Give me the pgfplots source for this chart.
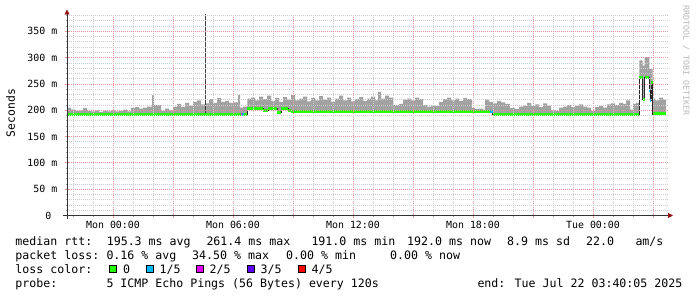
\documentclass[border=0pt]{standalone}
\usepackage{fontspec}
\setmainfont{DejaVu Sans Mono}
\setmonofont{DejaVu Sans Mono}
\usepackage{pgfplots}
\pgfplotsset{compat=1.18}
\usepackage{pgfplotstable}
\usetikzlibrary{arrows.meta}

\definecolor{smoke}{RGB}{162,162,162}
\definecolor{lcA}{RGB}{38,255,0}
\definecolor{lcB}{RGB}{0,184,255}
\definecolor{lcC}{RGB}{221,0,255}
\definecolor{lcD}{RGB}{94,0,255}
\definecolor{lcE}{RGB}{255,0,0}
\definecolor{mgrid}{RGB}{232,150,150}
\definecolor{mingrid}{RGB}{205,205,205}
\definecolor{arrowc}{RGB}{150,20,20}
\definecolor{wmark}{RGB}{185,185,185}

\newcommand\lf{\fontsize{11.6bp}{14bp}\selectfont}
\newcommand\tf{\fontsize{9.9bp}{12bp}\selectfont}

\pgfplotstableread{
h v
-2.3 205
-2.1 201
-1.9 199
-1.7 200
-1.5 204
-1.3 199
-1.1 198
-0.9 200
-0.7 197
-0.5 199
-0.3 198
-0.1 200
0.1 198
0.3 199
0.5 201
0.7 198
0.9 204
1.1 206
1.3 203
1.5 205
1.7 207
1.95 229
2.05 210
2.2 210
2.4 199
2.6 203
2.8 200
3.0 207
3.2 212
3.4 206
3.6 214
3.8 209
4.0 216
4.2 219
4.4 211
4.6 213
4.8 221
5.0 214
5.2 223
5.4 216
5.6 218
5.8 214
6.0 215
6.25 229
6.35 205
6.5 207
6.72 222
6.9 224
7.1 219
7.3 226
7.5 221
7.7 228
7.9 218
8.1 223
8.3 216
8.5 225
8.7 220
8.9 229
9.1 219
9.3 222
9.5 226
9.7 217
9.9 223
10.1 219
10.3 227
10.5 220
10.7 224
10.9 216
11.1 222
11.3 228
11.5 219
11.7 224
11.9 217
12.1 221
12.3 225
12.5 218
12.7 222
12.9 226
13.1 219
13.25 235
13.4 222
13.6 228
13.8 224
14.0 210
14.3 212
14.5 220
14.7 222
14.9 219
15.1 224
15.3 221
15.5 210
15.7 207
15.9 209
16.1 208
16.3 216
16.5 221
16.7 224
16.9 219
17.1 222
17.3 218
17.5 223
17.7 221
17.95 204
18.1 202
18.3 203
18.5 201
18.6 220
18.8 216
19.0 213
19.2 218
19.4 215
19.6 212
19.85 204
20.1 202
20.3 207
20.5 209
20.7 214
20.9 208
21.1 211
21.3 206
21.5 213
21.7 209
21.9 200
22.1 199
22.3 205
22.5 207
22.7 210
22.9 206
23.1 209
23.3 211
23.5 207
23.7 205
23.9 199
24.1 206
24.3 208
24.5 205
24.7 211
24.9 213
25.1 210
25.3 214
25.5 212
25.65 219
25.85 201
26.0 212
26.15 214
26.32 295
26.48 285
26.58 301
26.82 278
26.98 222
27.1 219
27.3 224
27.5 220
27.65 220
}\smoketop

\pgfplotstableread{
h v
-2.3 192.5
6.72 204
7.5 200
7.75 204
8.2 196
8.4 204
8.75 199.5
8.9 198.5
18.98 192.5
26.32 262
26.48 220
26.58 262
26.82 238
26.86 218
26.9 252
26.98 193
27.65 193
}\lowtab

\begin{document}
\begin{tikzpicture}
\path[use as bounding box, fill=white] (0,0) rectangle (697bp,-297bp);
\begin{axis}[
  at={(67bp,-215.5bp)}, anchor=south west,
  scale only axis, width=601bp, height=201bp,
  xmin=-2.3, xmax=27.75, ymin=0, ymax=382,
  axis x line=bottom, axis y line=left,
  axis on top,
  axis line style={black!80, line width=0.9bp},
  x axis line style={-{Triangle[length=5bp,width=5bp,color=arrowc]}, shorten <=-4bp, shorten >=-5bp},
  y axis line style={-{Triangle[length=5bp,width=5bp,color=arrowc]}, shorten <=-3.5bp, shorten >=-5bp},
  xtick={0,3,...,27},
  xticklabels={Mon 00:00,,Mon 06:00,,Mon 12:00,,Mon 18:00,,Tue 00:00,},
  minor xtick={-2,-1,1,2,4,5,7,8,10,11,13,14,16,17,19,20,22,23,25,26},
  ytick={0,50,...,350},
  yticklabels={0~~,50 m,100 m,150 m,200 m,250 m,300 m,350 m},
  minor ytick={10,20,30,40,60,70,80,90,110,120,130,140,160,170,180,190,210,220,230,240,260,270,280,290,310,320,330,340,360,370,380},
  grid=both,
  major grid style={mgrid, line width=0.8bp, dash pattern=on 1bp off 1bp},
  minor grid style={mingrid, line width=0.75bp, dash pattern=on 1bp off 1bp},
  tick align=center,
  major tick length=4bp, minor tick length=2bp,
  major tick style={mgrid, line width=0.9bp},
  minor tick style={black!40, line width=0.8bp},
  xticklabel style={font=\tf, inner sep=0pt, anchor=north, yshift=-3bp},
  yticklabel style={font=\tf, inner sep=0pt, anchor=east, xshift=-7.5bp},
  clip=true,
]
\addplot[const plot, draw=none, fill=smoke] table[x=h,y=v]{\smoketop} \closedcycle;
\addplot[const plot, draw=none, fill=white] table[x=h,y=v]{\lowtab} \closedcycle;
\addplot[const plot, draw=black!85, line width=0.8bp] table[x=h,y=v]{\lowtab};
\addplot[draw=black!75, line width=1.3bp] coordinates {(4.61,192.5) (4.61,400)};
\addplot[jump mark left, draw=lcA, line width=3bp] table[x=h,y=v]{\lowtab};
\addplot[draw=lcC, line width=3bp] coordinates {(6.40,192.5) (6.45,192.5)};
\addplot[draw=lcB, line width=3bp] coordinates {(6.45,192.5) (6.56,192.5)};
\addplot[draw=lcB, line width=3bp] coordinates {(18.85,198.5) (18.98,198.5)};
\addplot[draw=lcB, line width=3bp] coordinates {(26.82,238) (26.86,238)};
\addplot[draw=lcB, line width=3bp] coordinates {(26.86,218) (26.9,218)};
\end{axis}

% y unit
\node[rotate=90, inner sep=0pt, font=\fontsize{11.4bp}{13bp}\selectfont] at (10.5bp,-113bp) {Seconds};
% watermark
\node[rotate=-90, anchor=south west, inner sep=0pt, text=wmark, font=\fontsize{8.3bp}{10bp}\selectfont] at (682.5bp,-5bp) {RRDTOOL / TOBI OETIKER};

% legend lines
\begin{scope}[every node/.style={anchor=base west, inner sep=0pt, font=\lf}]
\node at (15.3bp,-245bp) {median rtt:};
\node at (106.6bp,-245bp) {195.3 ms avg};
\node at (206.3bp,-245bp) {261.4 ms max};
\node at (311.3bp,-245bp) {191.0 ms min};
\node at (407bp,-245bp) {192.0 ms now};
\node at (507bp,-245bp) {8.9 ms sd};
\node at (586bp,-245bp) {22.0};
\node at (635.3bp,-245bp) {am/s};

\node at (15.3bp,-259.3bp) {packet loss:};
\node at (106.3bp,-259.3bp) {0.16 \% avg};
\node at (192bp,-259.3bp) {34.50 \% max};
\node at (286bp,-259.3bp) {0.00 \% min};
\node at (390bp,-259.3bp) {0.00 \% now};

\node at (15.3bp,-273.3bp) {loss color:};
\node at (123bp,-273.3bp) {0};
\node at (159.5bp,-273.3bp) {1/5};
\node at (209.5bp,-273.3bp) {2/5};
\node at (260.5bp,-273.3bp) {3/5};
\node at (311.5bp,-273.3bp) {4/5};

\node at (15.3bp,-287.3bp) {probe:};
\node at (106.3bp,-287.3bp) {5 ICMP Echo Pings (56 Bytes) every 120s};
\node at (477.3bp,-287.3bp) {end: Tue Jul 22 03:40:05 2025};
\end{scope}

\filldraw[fill=lcA, draw=black, line width=0.8bp] (109bp,-265.5bp) rectangle (116bp,-272.5bp);
\filldraw[fill=lcB, draw=black, line width=0.8bp] (146bp,-265.5bp) rectangle (153bp,-272.5bp);
\filldraw[fill=lcC, draw=black, line width=0.8bp] (196.5bp,-265.5bp) rectangle (203.5bp,-272.5bp);
\filldraw[fill=lcD, draw=black, line width=0.8bp] (247bp,-265.5bp) rectangle (254bp,-272.5bp);
\filldraw[fill=lcE, draw=black, line width=0.8bp] (298bp,-265.5bp) rectangle (305bp,-272.5bp);
\end{tikzpicture}
\end{document}
